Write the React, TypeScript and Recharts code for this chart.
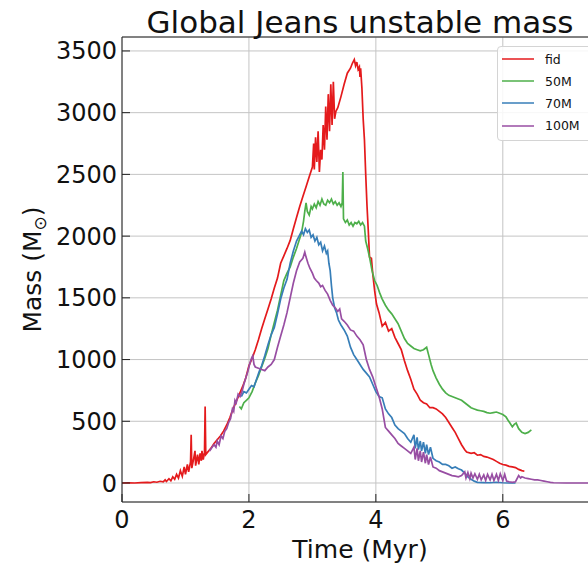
import { LineChart, Line, XAxis, YAxis, CartesianGrid, Legend, ReferenceLine } from 'recharts';

const FONT = '"DejaVu Sans", Verdana, sans-serif';

const seriesNames = ['fid', '50M', '70M', '100M'];
const seriesColors = ['#e41a1c', '#4daf4a', '#377eb8', '#984ea3'];
const timeTicks = [0, 2, 4, 6];
const massTicks = [0, 500, 1000, 1500, 2000, 2500, 3000, 3500];

// [time (Myr), mass (Msun)]
const fid: [number, number][] = [
  [0, 0], [0.1, 2], [0.2, 0], [0.3, 3], [0.4, 5], [0.45, 3], [0.5, 10], [0.55, 6], [0.6, 14],
  [0.65, 9], [0.68, 25], [0.7, 12], [0.74, 35], [0.77, 18], [0.8, 50], [0.83, 30], [0.86, 70],
  [0.89, 40], [0.92, 100], [0.95, 55], [0.98, 130], [1.0, 70], [1.03, 150], [1.05, 90],
  [1.08, 170], [1.09, 390], [1.1, 120], [1.13, 200], [1.15, 260], [1.16, 140], [1.19, 230],
  [1.21, 150], [1.23, 240], [1.25, 180], [1.26, 260], [1.28, 190], [1.3, 250], [1.31, 620],
  [1.32, 230], [1.35, 250], [1.4, 280], [1.45, 320], [1.5, 350], [1.55, 380], [1.6, 420],
  [1.65, 470], [1.7, 530], [1.75, 600], [1.8, 660], [1.85, 720], [1.9, 780], [1.95, 850],
  [2.0, 950], [2.05, 1010], [2.1, 1080], [2.15, 1160], [2.2, 1250], [2.25, 1330], [2.3, 1410],
  [2.35, 1490], [2.4, 1580], [2.45, 1660], [2.5, 1780], [2.55, 1840], [2.6, 1900], [2.65, 1965],
  [2.7, 2060], [2.75, 2150], [2.8, 2240], [2.85, 2320], [2.9, 2400], [2.95, 2480], [3.0, 2560],
  [3.02, 2750], [3.03, 2540], [3.05, 2800], [3.07, 2600], [3.09, 2850], [3.11, 2520],
  [3.13, 2700], [3.15, 2620], [3.17, 2900], [3.19, 2700], [3.21, 3050], [3.23, 2780],
  [3.25, 3150], [3.27, 2850], [3.29, 3230], [3.31, 2900], [3.33, 3250], [3.35, 2950],
  [3.37, 3010], [3.4, 3040], [3.45, 3130], [3.5, 3230], [3.55, 3320], [3.6, 3360], [3.63, 3400],
  [3.66, 3430], [3.68, 3380], [3.7, 3410], [3.72, 3350], [3.74, 3370], [3.75, 3290], [3.76, 3360],
  [3.78, 3200], [3.8, 2950], [3.82, 2780], [3.84, 2500], [3.86, 2250], [3.88, 2050], [3.9, 1830],
  [3.93, 1820], [3.95, 1700], [3.98, 1560], [4.01, 1450], [4.05, 1380], [4.1, 1270], [4.15, 1300],
  [4.2, 1230], [4.25, 1250], [4.3, 1180], [4.35, 1130], [4.4, 1080], [4.45, 990], [4.5, 910],
  [4.55, 840], [4.6, 760], [4.65, 720], [4.7, 670], [4.75, 650], [4.8, 640], [4.85, 610],
  [4.9, 610], [4.95, 600], [5.0, 580], [5.05, 560], [5.1, 530], [5.15, 490], [5.2, 450],
  [5.25, 410], [5.3, 360], [5.35, 310], [5.4, 270], [5.43, 250], [5.5, 240], [5.55, 245],
  [5.6, 225], [5.65, 230], [5.7, 215], [5.75, 210], [5.8, 200], [5.85, 190], [5.9, 175],
  [5.95, 160], [6.0, 150], [6.05, 145], [6.1, 135], [6.15, 130], [6.2, 125], [6.25, 110],
  [6.3, 100], [6.34, 95],
];

const m50: [number, number][] = [
  [1.85, 620], [1.88, 600], [1.92, 650], [1.96, 670], [2.0, 690], [2.05, 740], [2.1, 810],
  [2.15, 870], [2.2, 940], [2.25, 1010], [2.3, 1090], [2.35, 1200], [2.4, 1300], [2.45, 1400],
  [2.5, 1520], [2.55, 1640], [2.6, 1700], [2.65, 1750], [2.7, 1830], [2.75, 1900], [2.8, 1980],
  [2.83, 2030], [2.86, 2120], [2.88, 2200], [2.9, 2270], [2.92, 2200], [2.95, 2170], [2.98, 2240],
  [3.0, 2220], [3.03, 2260], [3.06, 2230], [3.09, 2280], [3.12, 2250], [3.15, 2300], [3.18, 2260],
  [3.21, 2250], [3.24, 2290], [3.27, 2270], [3.3, 2300], [3.33, 2260], [3.36, 2280], [3.39, 2250],
  [3.42, 2270], [3.45, 2240], [3.47, 2270], [3.48, 2520], [3.49, 2140], [3.52, 2110], [3.55, 2130],
  [3.58, 2090], [3.61, 2110], [3.64, 2080], [3.67, 2110], [3.7, 2100], [3.73, 2120], [3.76, 2090],
  [3.79, 2110], [3.82, 2080], [3.84, 1960], [3.87, 1900], [3.9, 1830], [3.94, 1720], [3.98, 1640],
  [4.02, 1600], [4.06, 1540], [4.1, 1490], [4.15, 1440], [4.2, 1400], [4.25, 1370], [4.3, 1330],
  [4.35, 1290], [4.4, 1230], [4.45, 1170], [4.5, 1130], [4.55, 1110], [4.6, 1090], [4.65, 1080],
  [4.7, 1070], [4.75, 1080], [4.8, 1100], [4.83, 1040], [4.87, 960], [4.9, 910], [4.95, 850],
  [5.0, 800], [5.05, 760], [5.1, 730], [5.15, 710], [5.2, 700], [5.25, 690], [5.3, 680],
  [5.35, 670], [5.4, 650], [5.45, 630], [5.5, 610], [5.55, 600], [5.6, 590], [5.65, 585],
  [5.7, 580], [5.75, 570], [5.8, 565], [5.85, 570], [5.9, 575], [5.95, 565], [6.0, 555],
  [6.05, 535], [6.08, 510], [6.12, 480], [6.15, 455], [6.18, 475], [6.21, 485], [6.25, 440],
  [6.3, 410], [6.35, 400], [6.4, 410], [6.45, 430],
];

const m70: [number, number][] = [
  [1.88, 700], [1.92, 740], [1.96, 730], [2.0, 760], [2.04, 790], [2.08, 780], [2.12, 840],
  [2.16, 900], [2.2, 950], [2.25, 1030], [2.3, 1120], [2.35, 1200], [2.4, 1260], [2.45, 1370],
  [2.5, 1490], [2.55, 1580], [2.6, 1650], [2.65, 1780], [2.7, 1880], [2.75, 1960], [2.8, 2010],
  [2.83, 2040], [2.86, 2010], [2.89, 2060], [2.92, 2030], [2.95, 2050], [2.98, 1990], [3.01, 2010],
  [3.04, 1960], [3.07, 1990], [3.1, 1930], [3.13, 1950], [3.16, 1880], [3.19, 1920], [3.22, 1860],
  [3.24, 1880], [3.26, 1780], [3.28, 1720], [3.3, 1600], [3.32, 1500], [3.35, 1420], [3.38, 1380],
  [3.41, 1320], [3.45, 1280], [3.5, 1240], [3.55, 1190], [3.6, 1100], [3.65, 1040], [3.7, 1000],
  [3.75, 960], [3.8, 920], [3.85, 890], [3.9, 860], [3.95, 800], [4.0, 740], [4.05, 700],
  [4.1, 690], [4.15, 600], [4.2, 560], [4.25, 530], [4.3, 470], [4.35, 440], [4.4, 420],
  [4.45, 400], [4.5, 360], [4.55, 330], [4.6, 390], [4.62, 280], [4.65, 370], [4.67, 270],
  [4.7, 340], [4.72, 260], [4.75, 330], [4.78, 240], [4.8, 310], [4.83, 230], [4.86, 290],
  [4.9, 200], [4.95, 180], [5.0, 170], [5.05, 150], [5.1, 150], [5.15, 140], [5.2, 120],
  [5.25, 130], [5.3, 115], [5.35, 105], [5.4, 80], [5.45, 50], [5.5, 30], [5.55, 15], [5.6, 5],
  [5.7, 3], [5.8, 2], [5.9, 6], [6.0, 2], [6.1, 0], [6.2, 0],
];

const m100: [number, number][] = [
  [1.38, 260], [1.42, 290], [1.45, 310], [1.48, 290], [1.5, 340], [1.53, 310], [1.56, 380],
  [1.59, 360], [1.62, 420], [1.65, 440], [1.68, 490], [1.71, 520], [1.74, 600], [1.76, 580],
  [1.78, 670], [1.8, 650], [1.83, 720], [1.86, 700], [1.89, 740], [1.92, 800], [1.95, 850],
  [1.98, 900], [2.01, 960], [2.04, 1010], [2.06, 1030], [2.08, 960], [2.1, 940], [2.15, 930],
  [2.2, 920], [2.25, 910], [2.3, 940], [2.35, 960], [2.4, 1000], [2.45, 1100], [2.5, 1190],
  [2.55, 1280], [2.6, 1380], [2.65, 1500], [2.7, 1620], [2.75, 1720], [2.8, 1790], [2.85, 1820],
  [2.88, 1870], [2.9, 1830], [2.93, 1780], [2.96, 1740], [3.0, 1700], [3.03, 1660], [3.06, 1640],
  [3.1, 1620], [3.13, 1590], [3.16, 1600], [3.2, 1560], [3.24, 1530], [3.28, 1480], [3.32, 1440],
  [3.36, 1420], [3.4, 1390], [3.43, 1410], [3.46, 1330], [3.5, 1310], [3.55, 1280], [3.6, 1240],
  [3.65, 1230], [3.7, 1190], [3.75, 1160], [3.8, 1120], [3.85, 1000], [3.9, 920], [3.95, 860],
  [4.0, 780], [4.05, 700], [4.1, 600], [4.15, 450], [4.2, 420], [4.25, 390], [4.3, 360],
  [4.35, 320], [4.4, 300], [4.45, 280], [4.5, 260], [4.55, 240], [4.6, 290], [4.62, 190],
  [4.65, 280], [4.67, 180], [4.7, 260], [4.72, 170], [4.75, 250], [4.78, 160], [4.8, 230],
  [4.83, 150], [4.86, 210], [4.9, 130], [4.95, 120], [5.0, 100], [5.05, 90], [5.1, 80],
  [5.15, 70], [5.2, 60], [5.25, 55], [5.3, 50], [5.35, 60], [5.4, 90], [5.42, 40], [5.45, 85],
  [5.48, 35], [5.5, 80], [5.53, 40], [5.56, 75], [5.6, 30], [5.63, 70], [5.66, 25], [5.7, 65],
  [5.73, 20], [5.76, 70], [5.8, 25], [5.83, 70], [5.86, 20], [5.9, 70], [5.93, 20], [5.96, 75],
  [6.0, 20], [6.03, 70], [6.06, 15], [6.1, 10], [6.15, 5], [6.2, 10], [6.25, 60], [6.28, 40],
  [6.3, 50], [6.35, 40], [6.4, 35], [6.45, 30], [6.5, 25], [6.55, 25], [6.6, 20], [6.65, 15],
  [6.7, 10], [6.75, 5], [6.8, 2], [7.0, 0], [7.5, 0],
];

const allSeries = [fid, m50, m70, m100];

// plot box (px) used to place the axis labels
const PLOT_LEFT = 122;
const PLOT_TOP = 37;
const PLOT_BOTTOM = 502;
const MASS_MAX = 3613;

function TimeLabel() {
  return (
    <text x={360} y={558} textAnchor="middle" fontSize={25} fontFamily={FONT} fill="#111">
      Time (Myr)
    </text>
  );
}

function MassLabel() {
  const cy = (PLOT_TOP + PLOT_BOTTOM) / 2;
  return (
    <text
      x={41}
      y={cy}
      transform={`rotate(-90, 41, ${cy})`}
      textAnchor="middle"
      fontSize={25}
      fontFamily={FONT}
      fill="#111"
    >
      Mass (M<tspan fontSize={17} dy={5}>⊙</tspan>
      <tspan dy={-5}>)</tspan>
    </text>
  );
}

function LegendBox() {
  return (
    <div
      style={{
        width: 120,
        padding: '1px 0 3px 0',
        border: '1px solid #d4d4d4',
        borderRadius: 4,
        background: 'rgba(255,255,255,0.85)',
        fontFamily: FONT,
        fontSize: 12.5,
        color: '#111',
      }}
    >
      {seriesNames.map((name, i) => (
        <div key={name} style={{ height: 22.2, display: 'flex', alignItems: 'center' }}>
          <svg width={40} height={10} style={{ marginLeft: 3 }}>
            <line x1={1} y1={5} x2={33} y2={5} stroke={seriesColors[i]} strokeOpacity={0.75} strokeWidth={2} />
          </svg>
          <span style={{ marginLeft: 4 }}>{name}</span>
        </div>
      ))}
    </div>
  );
}

export default function App() {
  return (
    <div
      style={{
        position: 'absolute',
        left: 0,
        top: 0,
        width: 588,
        height: 565,
        overflow: 'hidden',
        background: '#fff',
      }}
    >
      <svg
        width={588}
        height={40}
        style={{ position: 'absolute', left: 0, top: 0, zIndex: 2, pointerEvents: 'none' }}
      >
        <text x={360} y={33} textAnchor="middle" fontSize={31} fontFamily={FONT} fill="#111">
          Global Jeans unstable mass
        </text>
      </svg>
      <LineChart width={620} height={565} margin={{ top: PLOT_TOP, right: 22, bottom: 13, left: 22 }}>
        <CartesianGrid stroke="#c4c4c4" strokeWidth={1} />
        <XAxis
          dataKey="t"
          type="number"
          domain={[0, 7.5]}
          ticks={timeTicks}
          interval={0}
          allowDataOverflow
          height={50}
          tickSize={-8}
          tickMargin={17}
          tick={{ fill: '#111', fontSize: 24, fontFamily: FONT }}
          tickLine={{ stroke: '#222' }}
          axisLine={{ stroke: '#222' }}
          label={<TimeLabel />}
        />
        <YAxis
          type="number"
          domain={[-154, MASS_MAX]}
          ticks={massTicks}
          interval={0}
          allowDataOverflow
          width={PLOT_LEFT - 22}
          tickSize={-8}
          tickMargin={13}
          tick={{ fill: '#111', fontSize: 24, fontFamily: FONT }}
          tickLine={{ stroke: '#222' }}
          axisLine={{ stroke: '#222' }}
          label={<MassLabel />}
        />
        <ReferenceLine y={MASS_MAX} stroke="#222" strokeWidth={1} />
        <Legend
          layout="vertical"
          align="center"
          verticalAlign="middle"
          content={<LegendBox />}
          wrapperStyle={{ left: 497, top: 46, width: 'auto' }}
        />
        {allSeries.map((s, i) => (
          <Line
            key={seriesNames[i]}
            name={seriesNames[i]}
            data={s.map(([t, m]) => ({ t, m }))}
            dataKey="m"
            type="linear"
            stroke={seriesColors[i]}
            strokeWidth={1.7}
            dot={false}
            isAnimationActive={false}
          />
        ))}
      </LineChart>
    </div>
  );
}
